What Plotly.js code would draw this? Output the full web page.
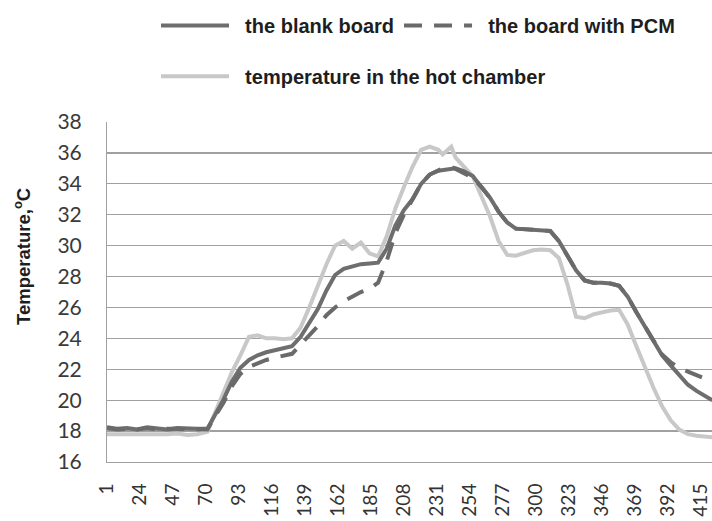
<!DOCTYPE html>
<html>
<head>
<meta charset="utf-8">
<script src="https://cdn.plot.ly/plotly-3.0.1.min.js"></script>
<style>html,body{margin:0;padding:0;background:#fff;}#chart{width:712px;height:521px;}</style>
</head>
<body>
<div id="chart"></div>
<script>
// sample positions (category index along the time axis)
const samples = [1, 8, 15, 22, 29, 36, 43, 50, 57, 64, 71, 76, 82, 88, 94, 100, 106, 112, 118, 124, 130, 136, 142, 148, 154, 160, 166, 172, 178, 184, 190, 196, 202, 208, 214, 220, 226, 232, 235, 241, 244, 250, 256, 262, 268, 274, 280, 286, 292, 298, 304, 310, 316, 322, 328, 334, 340, 346, 352, 358, 364, 370, 376, 382, 388, 394, 400, 406, 412, 418, 423];

const blankBoard = [18.25, 18.15, 18.2, 18.1, 18.25, 18.15, 18.1, 18.2, 18.15, 18.15, 18.15, 19.0, 20.0, 21.2, 22.1, 22.6, 22.9, 23.1, 23.25, 23.4, 23.5, 24.1, 25.0, 25.9, 27.1, 28.1, 28.5, 28.65, 28.8, 28.85, 28.9, 29.8, 31.3, 32.3, 33.0, 34.0, 34.6, 34.85, 34.9, 35.0, 35.0, 34.8, 34.5, 33.8, 33.1, 32.2, 31.5, 31.1, 31.05, 31.05, 31.0, 30.95, 30.3, 29.4, 28.4, 27.75, 27.6, 27.6, 27.55, 27.4, 26.7, 25.7, 24.8, 23.9, 22.9, 22.25, 21.6, 21.0, 20.6, 20.25, 20.0];

const boardPCM = [18.2, 18.1, 18.15, 18.1, 18.2, 18.1, 18.15, 18.15, 18.1, 18.1, 18.1, 18.9, 19.8, 20.9, 21.7, 22.15, 22.4, 22.6, 22.75, 22.85, 23.0, 23.6, 24.2, 24.8, 25.5, 26.0, 26.4, 26.7, 27.0, 27.2, 27.6, 29.0, 30.8, 32.0, 33.0, 34.0, 34.6, 34.9, 35.0, 35.1, 34.95, 34.7, 34.4, 33.8, 33.1, 32.2, 31.5, 31.1, 31.05, 31.05, 31.0, 30.95, 30.3, 29.4, 28.4, 27.75, 27.6, 27.6, 27.55, 27.4, 26.7, 25.7, 24.8, 23.9, 22.95, 22.45, 22.1, 21.85, 21.6, 21.4, 21.2];

const hotChamber = [17.8, 17.8, 17.75, 17.8, 17.8, 17.8, 17.8, 17.85, 17.75, 17.8, 17.95, 19.1, 20.4, 21.8, 22.9, 24.1, 24.2, 24.0, 24.0, 23.95, 24.0, 24.7, 26.0, 27.4, 28.8, 30.0, 30.3, 29.8, 30.2, 29.5, 29.3, 30.6, 32.4, 33.8, 35.1, 36.2, 36.4, 36.2, 35.9, 36.4, 35.7, 35.1, 34.5, 33.2, 31.9, 30.3, 29.4, 29.35, 29.5, 29.7, 29.75, 29.7, 29.2, 27.5, 25.4, 25.3, 25.55, 25.7, 25.8, 25.85, 24.9, 23.5, 22.1, 20.8, 19.6, 18.7, 18.1, 17.8, 17.7, 17.65, 17.6];

const tickCategories = [1, 24, 47, 70, 93, 116, 139, 162, 185, 208, 231, 254, 277, 300, 323, 346, 369, 392, 415];
const tickLabels = tickCategories.map(String);
const seriesNames = ['the blank board', 'the board with PCM', 'temperature in the hot chamber'];
const pad = '\u00a0\u00a0';

const traces = [
  {x: samples, y: blankBoard, name: pad + seriesNames[0], type: 'scatter', mode: 'lines',
   line: {color: '#6e6e6e', width: 4}, legend: 'legend'},
  {x: samples, y: boardPCM, name: pad + seriesNames[1], type: 'scatter', mode: 'lines',
   line: {color: '#6a6a6a', width: 4, dash: '18px,12px'}, legend: 'legend'},
  {x: samples, y: hotChamber, name: pad + seriesNames[2], type: 'scatter', mode: 'lines',
   line: {color: '#c8c8c8', width: 4}, legend: 'legend2'}
];
// draw hot chamber beneath others
const ordered = [traces[2], traces[0], traces[1]];

const legendFont = {family: 'Liberation Sans, Arial, sans-serif', size: 20, weight: 'bold', color: '#1e1e1e'};

const layout = {
  width: 712, height: 521,
  margin: {l: 107, r: 0, t: 122, b: 59, pad: 0},
  paper_bgcolor: '#ffffff', plot_bgcolor: '#ffffff',
  showlegend: true,
  legend: {orientation: 'h', x: 0.081, xanchor: 'left', y: 1.341, yanchor: 'top',
           font: legendFont, itemwidth: 68, traceorder: 'normal', bgcolor: 'rgba(0,0,0,0)'},
  legend2: {orientation: 'h', x: 0.081, xanchor: 'left', y: 1.192, yanchor: 'top',
           font: legendFont, itemwidth: 68, bgcolor: 'rgba(0,0,0,0)'},
  xaxis: {
    range: [1, 422.8], showgrid: false, zeroline: false,
    tickmode: 'array', tickvals: tickCategories, ticktext: tickLabels,
    tickangle: -90, ticks: '', ticklabelstandoff: 13,
    tickfont: {family: 'Lato, sans-serif', size: 19, color: '#333333'},
    showline: true, linecolor: '#a0a0a0', linewidth: 1
  },
  yaxis: {
    range: [16, 38], dtick: 2, tick0: 16, showgrid: true, gridcolor: '#a0a0a0', gridwidth: 1.3,
    zeroline: false, ticks: '', ticklabelstandoff: 20,
    tickfont: {family: 'Lato, sans-serif', size: 21, color: '#3a3a3a'},
    showline: true, linecolor: '#a0a0a0', linewidth: 1
  },
  annotations: [{
    text: 'Temperature,<sup>o</sup>C', xref: 'paper', yref: 'paper',
    x: -0.1405, y: 0.606, xanchor: 'center', yanchor: 'middle', textangle: -90, showarrow: false,
    font: {family: 'Liberation Sans, Arial, sans-serif', size: 18.5, weight: 'bold', color: '#1e1e1e'}
  }]
};

Plotly.newPlot('chart', ordered, layout, {staticPlot: true, displayModeBar: false});
</script>
</body>
</html>
